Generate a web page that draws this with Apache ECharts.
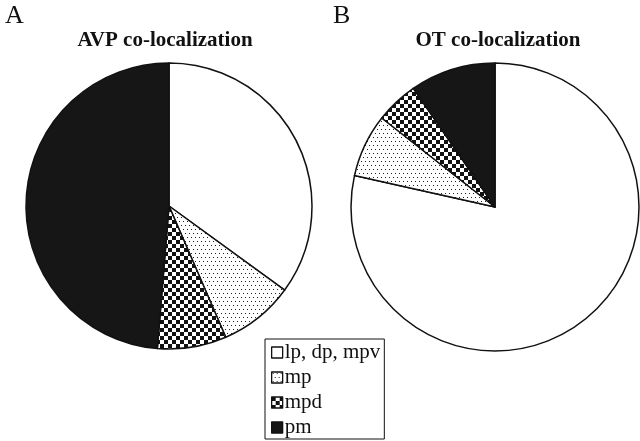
<!DOCTYPE html>
<html>
<head>
<meta charset="utf-8">
<script src="https://cdn.jsdelivr.net/npm/echarts@6/dist/echarts.min.js"></script>
<style>
  html, body { margin: 0; padding: 0; background: #fff; }
  #main { width: 640px; height: 441px; }
</style>
</head>
<body>
<div id="main"></div>
<script>
// share of each cell group (%)
var groups = ['lp, dp, mpv', 'mp', 'mpd', 'pm'];
var avpValues = [35.0, 8.5, 7.8, 48.7];
var otValues = [78.5, 7.1, 4.8, 9.6];

function dotPattern() {
  var c = document.createElement('canvas');
  c.width = 4; c.height = 8;
  var ctx = c.getContext('2d');
  ctx.fillStyle = '#fff';
  ctx.fillRect(0, 0, 4, 8);
  ctx.fillStyle = '#222';
  ctx.fillRect(1, 1, 1, 1);
  ctx.fillRect(3, 5, 1, 1);
  return c;
}

function checkerPattern() {
  var c = document.createElement('canvas');
  c.width = 8; c.height = 8;
  var ctx = c.getContext('2d');
  ctx.fillStyle = '#fff';
  ctx.fillRect(0, 0, 8, 8);
  ctx.fillStyle = '#111';
  ctx.fillRect(0, 0, 4, 4);
  ctx.fillRect(4, 4, 4, 4);
  return c;
}

var fills = [
  '#ffffff',
  { image: dotPattern(), repeat: 'repeat' },
  { image: checkerPattern(), repeat: 'repeat' },
  '#161616'
];

function toData(values) {
  return values.map(function (v, i) {
    return { name: groups[i], value: v, itemStyle: { color: fills[i] } };
  });
}

var myChart = echarts.init(document.getElementById('main'));
var option = {
  animation: false,
  title: [
    { text: 'A', left: 0, top: -2, textStyle: { fontFamily: 'Liberation Serif', fontWeight: 'normal', fontSize: 26, color: '#111' } },
    { text: 'B', left: 328, top: -2, textStyle: { fontFamily: 'Liberation Serif', fontWeight: 'normal', fontSize: 26, color: '#111' } },
    { text: 'AVP co-localization', left: 160, top: 25, textAlign: 'center', textStyle: { fontFamily: 'Liberation Serif', fontWeight: 'bold', fontSize: 21, color: '#111' } },
    { text: 'OT co-localization', left: 493, top: 25, textAlign: 'center', textStyle: { fontFamily: 'Liberation Serif', fontWeight: 'bold', fontSize: 21, color: '#111' } }
  ],
  legend: {
    orient: 'vertical',
    left: 265,
    top: 339,
    height: 101,
    padding: [3, 4, 1, 6],
    itemGap: 4,
    itemWidth: 11,
    itemHeight: 11,
    icon: 'rect',
    borderColor: '#111',
    borderWidth: 1,
    data: groups,
    itemStyle: { borderColor: '#111', borderWidth: 1.3 },
    textStyle: { fontFamily: 'Liberation Serif', fontSize: 21, lineHeight: 20, color: '#111', padding: [0, 0, 0, -3] }
  },
  series: [
    {
      name: 'AVP',
      type: 'pie',
      center: [169, 206],
      radius: 143,
      startAngle: 90,
      label: { show: false },
      labelLine: { show: false },
      emphasis: { disabled: true },
      itemStyle: { borderColor: '#111', borderWidth: 1.5 },
      data: toData(avpValues)
    },
    {
      name: 'OT',
      type: 'pie',
      center: [495, 207],
      radius: 144,
      startAngle: 90,
      label: { show: false },
      labelLine: { show: false },
      emphasis: { disabled: true },
      itemStyle: { borderColor: '#111', borderWidth: 1.5 },
      data: toData(otValues)
    }
  ]
};
option && myChart.setOption(option);
</script>
</body>
</html>
